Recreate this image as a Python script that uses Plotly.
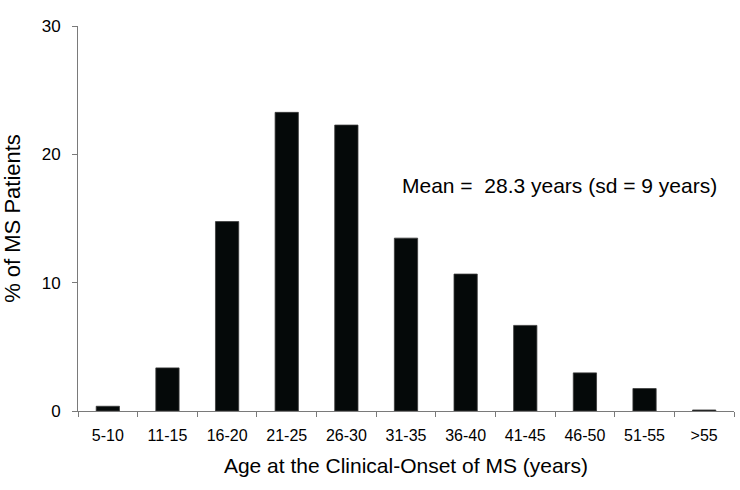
import plotly.graph_objects as go

categories = ["5-10", "11-15", "16-20", "21-25", "26-30", "31-35", "36-40", "41-45", "46-50", "51-55", ">55"]
percent_patients = [0.37, 3.36, 14.76, 23.27, 22.28, 13.47, 10.67, 6.67, 2.97, 1.75, 0.08]
y_ticks = [0, 10, 20, 30]
annotation_text = "Mean =  28.3 years (sd = 9 years)"

FONT = "Liberation Sans, Arial, sans-serif"
AXIS_COLOR = "#7a7a7a"

fig = go.Figure()
fig.add_trace(go.Bar(
    x=categories,
    y=percent_patients,
    marker=dict(color="#050909", line=dict(color="#3a3a3a", width=0.8)),
    showlegend=False,
))

fig.update_layout(
    width=740, height=490,
    margin=dict(l=78, r=6, t=26, b=78.5, pad=0, autoexpand=False),
    paper_bgcolor="white", plot_bgcolor="white",
    bargap=0.61,
    font=dict(family=FONT, color="black"),
    xaxis=dict(
        type="category", automargin=False,
        showline=True, linecolor=AXIS_COLOR, linewidth=1,
        ticks="outside", tickson="boundaries", ticklen=5, tickcolor=AXIS_COLOR,
        tickfont=dict(size=16, family=FONT, color="black"),
        ticklabelstandoff=10,
        showgrid=False, zeroline=False,
        title=dict(text="Age at the Clinical-Onset of MS (years)", font=dict(size=21, family=FONT), standoff=15),
    ),
    yaxis=dict(
        range=[0, 30], tickvals=y_ticks, automargin=False,
        showline=True, linecolor=AXIS_COLOR, linewidth=1,
        ticks="outside", ticklen=5, tickcolor=AXIS_COLOR,
        tickfont=dict(size=17, family=FONT, color="black"),
        ticklabelstandoff=8,
        showgrid=False, zeroline=False,
        title=dict(text="% of MS Patients", font=dict(size=22, family=FONT), standoff=21),
    ),
    annotations=[dict(
        text=annotation_text, xref="paper", yref="paper",
        x=0.4906, y=0.587, xanchor="left", yanchor="middle",
        showarrow=False, font=dict(size=21, family=FONT, color="black"),
    )],
)

fig.write_html(
    "out.html",
    config={"displayModeBar": False},
    post_script="document.body.style.margin='0px'; document.body.style.overflow='hidden';",
)
